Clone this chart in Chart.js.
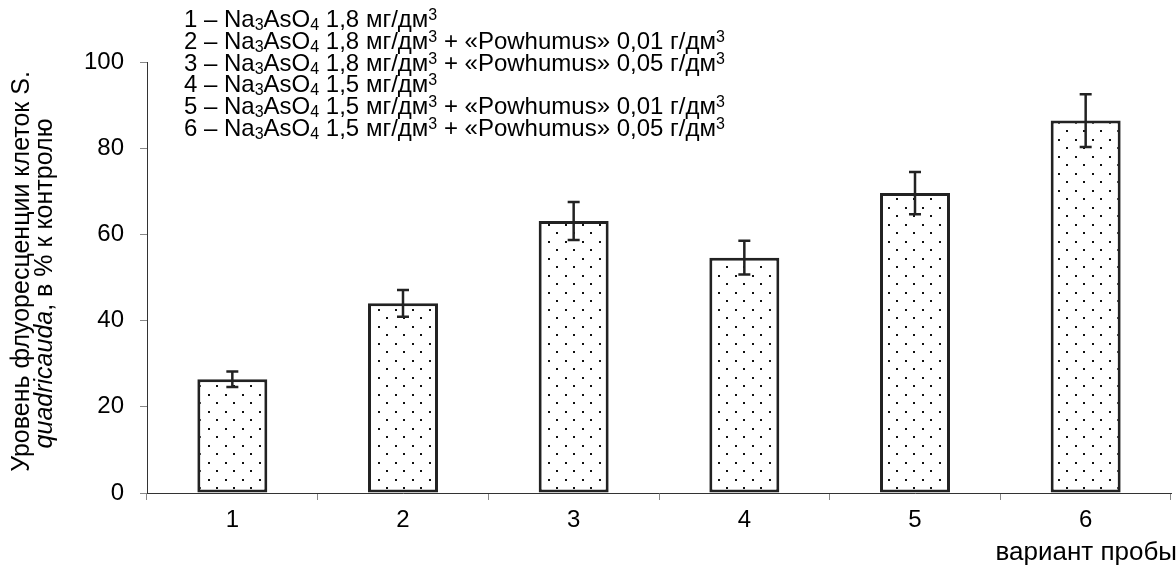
<!DOCTYPE html>
<html>
<head>
<meta charset="utf-8">
<script src="https://cdn.jsdelivr.net/npm/chart.js@4.4.1/dist/chart.umd.min.js"></script>
<style>
  html, body { margin: 0; padding: 0; background: #fff; }
  #wrap { width: 1176px; height: 570px; position: relative; }
</style>
</head>
<body>
<div id="wrap"><canvas id="chart" width="1176" height="570"></canvas></div>
<script>
const categories = ['1', '2', '3', '4', '5', '6'];
const values = [26.4, 44.0, 63.1, 54.6, 69.6, 86.4];
const errors = [1.8, 3.1, 4.4, 3.9, 4.9, 6.1];
const yTicks = [0, 20, 40, 60, 80, 100];

// _{x} = subscript, ^{x} = superscript
const legendLines = [
  '1 – Na_{3}AsO_{4} 1,8 мг/дм^{3}',
  '2 – Na_{3}AsO_{4} 1,8 мг/дм^{3} + «Powhumus» 0,01 г/дм^{3}',
  '3 – Na_{3}AsO_{4} 1,8 мг/дм^{3} + «Powhumus» 0,05 г/дм^{3}',
  '4 – Na_{3}AsO_{4} 1,5 мг/дм^{3}',
  '5 – Na_{3}AsO_{4} 1,5 мг/дм^{3} + «Powhumus» 0,01 г/дм^{3}',
  '6 – Na_{3}AsO_{4} 1,5 мг/дм^{3} + «Powhumus» 0,05 г/дм^{3}'
];
const yTitleLine1 = 'Уровень флуоресценции клеток S.';
const yTitleLine2 = [['quadricauda', true], [', в % к контролю', false]];
const xTitle = 'вариант пробы';

const FONT = '"Liberation Sans", Arial, sans-serif';

function makeDots(){
  const c = document.createElement('canvas');
  c.width = 17; c.height = 17;
  const g = c.getContext('2d');
  g.fillStyle = '#fff';
  g.fillRect(0, 0, 17, 17);
  g.fillStyle = '#111';
  g.fillRect(4, 3, 2, 2);
  g.fillRect(12, 11, 2, 2);
  return g.createPattern(c, 'repeat');
}

function parseRich(str){
  const parts = [];
  const re = /([_^])\{([^}]*)\}/g;
  let last = 0, m;
  while ((m = re.exec(str))) {
    if (m.index > last) parts.push({ t: str.slice(last, m.index), k: 'n' });
    parts.push({ t: m[2], k: m[1] === '_' ? 'sub' : 'sup' });
    last = re.lastIndex;
  }
  if (last < str.length) parts.push({ t: str.slice(last), k: 'n' });
  return parts;
}

const errorBars = {
  id: 'errorBars',
  afterDatasetsDraw(chart){
    const ctx = chart.ctx;
    const y = chart.scales.y;
    const meta = chart.getDatasetMeta(0);
    ctx.save();
    ctx.strokeStyle = '#222';
    ctx.lineWidth = 2.5;
    meta.data.forEach((bar, i) => {
      const top = y.getPixelForValue(values[i] + errors[i]);
      const bot = y.getPixelForValue(values[i] - errors[i]);
      ctx.beginPath();
      ctx.moveTo(bar.x, top); ctx.lineTo(bar.x, bot);
      ctx.moveTo(bar.x - 6, top); ctx.lineTo(bar.x + 6, top);
      ctx.moveTo(bar.x - 6, bot); ctx.lineTo(bar.x + 6, bot);
      ctx.stroke();
    });
    ctx.restore();
  }
};

const texts = {
  id: 'texts',
  afterDraw(chart){
    const ctx = chart.ctx;
    const area = chart.chartArea;
    ctx.save();
    ctx.fillStyle = '#000';

    // legend block
    ctx.textBaseline = 'alphabetic';
    ctx.textAlign = 'left';
    const size = 24, sm = 16;
    legendLines.forEach((line, li) => {
      let x = 184;
      const base = 27 + li * 21.8;
      parseRich(line).forEach(p => {
        let dy = 0;
        if (p.k === 'n') ctx.font = size + 'px ' + FONT;
        else { ctx.font = sm + 'px ' + FONT; dy = p.k === 'sub' ? 3 : -7; }
        ctx.fillText(p.t, x, base + dy);
        x += ctx.measureText(p.t).width;
      });
    });

    // x title
    ctx.font = '26px ' + FONT;
    ctx.textBaseline = 'middle';
    ctx.textAlign = 'right';
    ctx.fillText(xTitle, 1177, 553);

    // y title (rotated, two lines)
    const cy = (area.top + area.bottom) / 2;
    ctx.translate(0, cy);
    ctx.rotate(-Math.PI / 2);
    ctx.font = '25px ' + FONT;
    ctx.textAlign = 'center';
    ctx.fillText(yTitleLine1, 6, 22);
    let w = 0;
    yTitleLine2.forEach(([t, it]) => {
      ctx.font = (it ? 'italic ' : '') + '25px ' + FONT;
      w += ctx.measureText(t).width;
    });
    ctx.textAlign = 'left';
    let x = -w / 2 - 6;
    yTitleLine2.forEach(([t, it]) => {
      ctx.font = (it ? 'italic ' : '') + '25px ' + FONT;
      ctx.fillText(t, x, 45);
      x += ctx.measureText(t).width;
    });
    ctx.restore();
  }
};

new Chart(document.getElementById('chart'), {
  type: 'bar',
  data: {
    labels: categories,
    datasets: [{
      data: values,
      backgroundColor: makeDots(),
      borderColor: '#222',
      borderWidth: 3,
      borderSkipped: false,
      barPercentage: 0.41,
      categoryPercentage: 1
    }]
  },
  options: {
    responsive: false,
    animation: false,
    layout: { padding: { top: 62, right: 5, bottom: 0, left: 0 } },
    plugins: { legend: { display: false }, tooltip: { enabled: false } },
    scales: {
      x: {
        offset: true,
        afterFit(s){ s.height = 77; },
        grid: { offset: true, drawOnChartArea: false, drawTicks: true, tickLength: 7, color: '#888' },
        border: { display: true, color: '#333', width: 1 },
        ticks: { color: '#000', font: { family: FONT, size: 24 }, padding: 6 }
      },
      y: {
        min: 0, max: 100,
        afterFit(s){ s.width = 147; },
        afterBuildTicks(s){ s.ticks = yTicks.map(v => ({ value: v })); },
        grid: { drawOnChartArea: false, drawTicks: true, tickLength: 7, color: '#888' },
        border: { display: true, color: '#333', width: 1 },
        ticks: { color: '#000', font: { family: FONT, size: 24 }, padding: 16 }
      }
    }
  },
  plugins: [errorBars, texts]
});
</script>
</body>
</html>
